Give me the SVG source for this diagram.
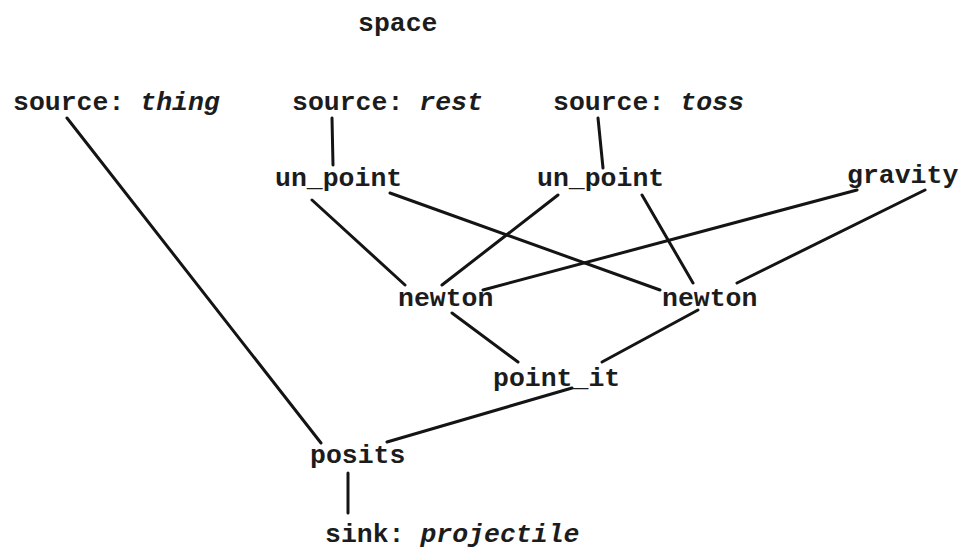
<svg xmlns="http://www.w3.org/2000/svg" width="964" height="551" viewBox="0 0 964 551">
  <style>
    .lbl { font-family: "Liberation Mono", "Courier New", monospace; font-size: 26.5px; font-weight: bold; fill: #1c1c1c; }
    .it { font-style: italic; }
    .edge { stroke: #141414; stroke-width: 3; stroke-linecap: round; fill: none; }
  </style>
  <rect width="964" height="551" fill="#ffffff"/>

  <!-- connectors -->
  <g id="connectors">
    <line class="edge" x1="67" y1="118" x2="321" y2="443"/>
    <line class="edge" x1="332" y1="118" x2="333" y2="165"/>
    <line class="edge" x1="598" y1="118" x2="603" y2="168"/>
    <line class="edge" x1="312" y1="200" x2="405" y2="285"/>
    <line class="edge" x1="390" y1="193" x2="660" y2="290"/>
    <line class="edge" x1="558" y1="195" x2="442" y2="285"/>
    <line class="edge" x1="642" y1="195" x2="693" y2="283"/>
    <line class="edge" x1="857" y1="190" x2="483" y2="290"/>
    <line class="edge" x1="925" y1="190" x2="737" y2="283"/>
    <line class="edge" x1="452" y1="313" x2="518" y2="362"/>
    <line class="edge" x1="698" y1="310" x2="602" y2="362"/>
    <line class="edge" x1="572" y1="388" x2="387" y2="442"/>
    <line class="edge" x1="348" y1="473" x2="348" y2="513"/>
  </g>

  <!-- nodes -->
  <g id="space"><text class="lbl" x="358" y="31">space</text></g>
  <g id="src-thing"><text class="lbl" x="13" y="110">source: <tspan class="it">thing</tspan></text></g>
  <g id="src-rest"><text class="lbl" x="292" y="110">source: <tspan class="it">rest</tspan></text></g>
  <g id="src-toss"><text class="lbl" x="553" y="110">source: <tspan class="it">toss</tspan></text></g>
  <g id="un-point-1"><text class="lbl" x="275" y="186">un_point</text></g>
  <g id="un-point-2"><text class="lbl" x="537" y="186">un_point</text></g>
  <g id="gravity"><text class="lbl" x="847" y="183">gravity</text></g>
  <g id="newton-1"><text class="lbl" x="398" y="306">newton</text></g>
  <g id="newton-2"><text class="lbl" x="662" y="306">newton</text></g>
  <g id="point-it"><text class="lbl" x="493" y="386">point_it</text></g>
  <g id="posits"><text class="lbl" x="310" y="463">posits</text></g>
  <g id="sink"><text class="lbl" x="325" y="542">sink: <tspan class="it">projectile</tspan></text></g>
</svg>
